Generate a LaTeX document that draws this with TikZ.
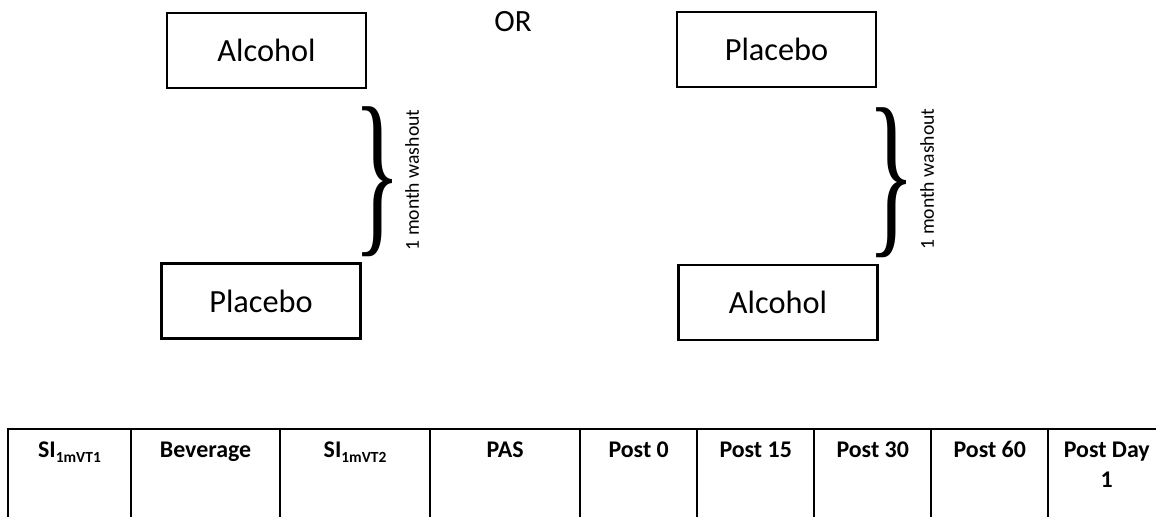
\documentclass[tikz,border=0pt]{standalone}
\usepackage{fontspec}
\setmainfont{Carlito}
\newfontfamily\bracefont{Liberation Serif}
\usetikzlibrary{positioning}

\tikzset{>=latex}
\tikzset{
	arm/.style={draw, line width=1.8pt, minimum width=4.975cm, minimum height=1.875cm, inner sep=0pt, font=\fontsize{23}{27}\selectfont},
	cell/.style={draw, line width=1.2pt, minimum height=2.75cm, inner sep=0pt, outer sep=0pt},
	celltext/.style={font=\bfseries\fontsize{17}{21.5}\selectfont, align=center, inner sep=0pt, anchor=base, yshift=-0.7cm},
	washout/.style={rotate=90, inner sep=0pt, font=\fontsize{14}{16}\selectfont},
	curly/.style={inner sep=0pt}
}

\begin{document}
\begin{tikzpicture}[x=0.025cm, y=-0.025cm]

		\useasboundingbox (0,0) rectangle (1156,517);
		\clip (0,0) rectangle (1156,517);

			\node[arm] (alcA) at (266.5,50.5) {Alcohol};
			\node[arm] (plcA) at (261,301) {Placebo};
			\node[arm] (plcB) at (776.5,49.5) {Placebo};
			\node[arm] (alcB) at (778,302.5) {Alcohol};

			\node[font=\fontsize{22}{26}\selectfont] (or) at (513,22) {OR};

			\node[curly] (brA) at (378,182) {\resizebox*{1.2cm}{3.75cm}{\bracefont\}}};
			\node[curly] (brB) at (892,182.5) {\resizebox*{1.2cm}{3.75cm}{\bracefont\}}};
			\node[washout] (wA) at (412,180) {1 month washout};
			\node[washout] (wB) at (927,179) {1 month washout};

			\node[cell, anchor=north west, minimum width=3.075cm] (si1) at (8,429) {};
			\node[cell, right=0pt of si1, minimum width=3.725cm] (bev) {};
			\node[cell, right=0pt of bev, minimum width=3.75cm] (si2) {};
			\node[cell, right=0pt of si2, minimum width=3.75cm] (pas) {};
			\node[cell, right=0pt of pas, minimum width=2.925cm] (p0) {};
			\node[cell, right=0pt of p0, minimum width=2.925cm] (p15) {};
			\node[cell, right=0pt of p15, minimum width=2.925cm] (p30) {};
			\node[cell, right=0pt of p30, minimum width=2.925cm] (p60) {};
			\node[cell, right=0pt of p60, minimum width=2.925cm] (pd1) {};

			\node[celltext] (tsi1) at (si1.north) {SI\raisebox{-4pt}{\fontsize{11}{12}\selectfont 1mVT1}};
			\node[celltext] (tbev) at (bev.north) {Beverage};
			\node[celltext] (tsi2) at (si2.north) {SI\raisebox{-4pt}{\fontsize{11}{12}\selectfont 1mVT2}};
			\node[celltext] (tpas) at (pas.north) {PAS};
			\node[celltext] (tp0) at (p0.north) {Post 0};
			\node[celltext] (tp15) at (p15.north) {Post 15};
			\node[celltext] (tp30) at (p30.north) {Post 30};
			\node[celltext] (tp60) at (p60.north) {Post 60};
			\node[celltext, yshift=-21.5pt] (tpd1) at (pd1.north) {Post Day\\1};

		\end{tikzpicture}
\end{document}
